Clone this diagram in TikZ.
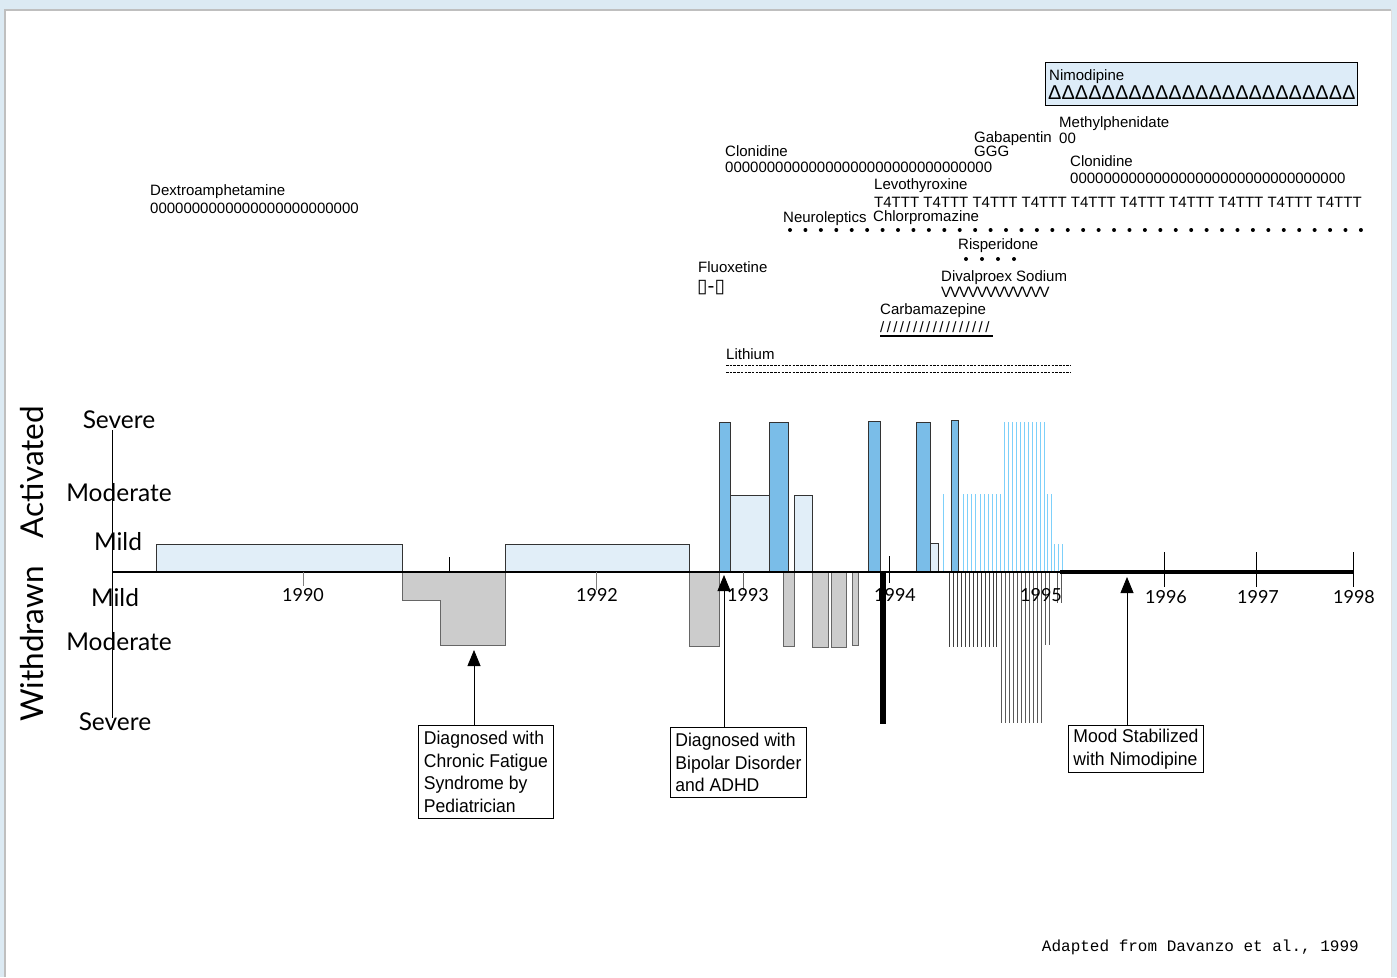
\documentclass[tikz,border=0pt]{standalone}
\usepackage{fontspec}
\usetikzlibrary{arrows.meta}
\setmainfont{Liberation Sans}
\setmonofont{Liberation Mono}
\newfontfamily\scalefont{Lato}
\newfontfamily\symbolfont{DejaVu Sans}
\newfontfamily\notefont[FakeStretch=0.95]{Liberation Sans}
\newfontfamily\slashfont[LetterSpace=16]{Liberation Sans}
\newfontfamily\tightfont[LetterSpace=-7]{Liberation Sans}

\definecolor{pageblue}{RGB}{220,234,243}
\definecolor{mildfill}{RGB}{225,238,248}
\definecolor{hotfill}{RGB}{122,189,232}
\definecolor{lowfill}{RGB}{204,204,204}
\definecolor{spikeblue}{RGB}{125,208,250}
\definecolor{nimofill}{RGB}{221,236,248}

\tikzset{
  drug/.style={anchor=west, inner sep=0pt, text height=11pt, text depth=3pt,
    font=\fontsize{15}{15}\selectfont},
  level/.style={inner sep=0pt, font=\scalefont\fontsize{24.5}{24.5}\selectfont},
  side/.style={inner sep=0pt, rotate=90, font=\scalefont\fontsize{31.5}{31.5}\selectfont},
  year/.style={inner sep=0pt, font=\scalefont\fontsize{18}{18}\selectfont},
  upbar/.style={draw=black!80, fill=mildfill, line width=0.9pt},
  hotbar/.style={draw=black!80, fill=hotfill, line width=0.9pt},
  downbar/.style={draw=black!60, fill=lowfill, line width=0.9pt},
  note/.style={draw, line width=0.8pt, fill=white, anchor=north west, align=left,
    inner xsep=5pt, inner ysep=5.5pt, font=\notefont\fontsize{18.5}{22.7}\selectfont},
  pointer/.style={-{Triangle[length=16pt,width=13pt]}, line width=0.8pt}
}

\begin{document}
\begin{tikzpicture}[x=1pt, y=-1pt]
  \useasboundingbox (0,0) rectangle (1397,977);

  % page
  \fill[pageblue] (0,0) rectangle (1397,977);
  \fill[white] (5,10) rectangle (1391,977);
  \draw[black!25, line width=2pt] (5,977) -- (5,10) -- (1391,10);
  \draw[black!12, line width=1pt] (1391,10) -- (1391,977);

  % severity scale
  \draw[line width=0.8pt] (112,430) -- (112,718);
  \node[level] (sevUp) at (119,420) {Severe};
  \node[level] (modUp) at (119,493) {Moderate};
  \node[level] (mildUp) at (118,542) {Mild};
  \node[level] (mildDown) at (115,598) {Mild};
  \node[level] (modDown) at (119,642) {Moderate};
  \node[level] (sevDown) at (115,722) {Severe};
  \node[side] (activated) at (32,472) {Activated};
  \node[side] (withdrawn) at (32,644) {Withdrawn};

  % 1994-95 daily swings
  \foreach \x in {943,951,963,967,971,975,980,984,988,992,996,1000,1047,1051}
    \draw[spikeblue, line width=0.9pt] (\x,572) -- (\x,494);
  \foreach \x in {1004,1008,...,1044}
    \draw[spikeblue, line width=0.9pt] (\x,572) -- (\x,422);
  \foreach \x in {1054,1058,1062}
    \draw[spikeblue, line width=0.9pt] (\x,572) -- (\x,544);
  \foreach \x in {949,953,...,993,996}
    \draw[black!75, line width=0.8pt] (\x,572) -- (\x,647);
  \foreach \x in {1001,1005,...,1041}
    \draw[black!65, line width=0.8pt] (\x,572) -- (\x,723);
  \foreach \x in {1045,1049}
    \draw[black!65, line width=0.8pt] (\x,572) -- (\x,645);
  \foreach \x in {1057,1061}
    \draw[black!65, line width=0.8pt] (\x,572) -- (\x,603);

  % activated
  \filldraw[upbar] (156,572) rectangle (402,544);
  \filldraw[upbar] (505,572) rectangle (689,544);
  \filldraw[hotbar] (719,572) rectangle (730,422);
  \filldraw[upbar] (730,572) rectangle (769,495);
  \filldraw[hotbar] (769,572) rectangle (788,422);
  \filldraw[upbar] (794,572) rectangle (812,495);
  \filldraw[hotbar] (868,572) rectangle (880,421);
  \filldraw[hotbar] (916,572) rectangle (930,422);
  \filldraw[upbar] (930,572) rectangle (938,543);
  \filldraw[hotbar] (951,572) rectangle (958,420);

  % withdrawn
  \filldraw[downbar] (402,572) -- (402,600) -- (440,600) -- (440,645) -- (505,645) -- (505,572) -- cycle;
  \filldraw[downbar] (689,572) rectangle (719,646);
  \filldraw[downbar] (783,572) rectangle (794,646);
  \filldraw[downbar] (812,572) rectangle (828,647);
  \filldraw[downbar] (831,572) rectangle (846,647);
  \filldraw[downbar] (852,572) rectangle (858,645);
  \fill (880,572) rectangle (886,724);

  % time line
  \draw[line width=1.2pt] (112,572) -- (1060,572);
  \draw[line width=3.5pt] (1060,572) -- (1354,572);
  \draw[black!50, line width=0.8pt] (303,572) -- (303,586);
  \draw[black!50, line width=0.8pt] (596,572) -- (596,590);
  \draw[line width=0.8pt] (449,557) -- (449,572);
  \draw[black!60, line width=0.8pt] (743,572) -- (743,590);
  \draw[line width=0.8pt] (889,556) -- (889,583);
  \foreach \x in {1164,1256,1353}
    \draw[line width=0.8pt] (\x,552) -- (\x,587);
  \node[year] (y90) at (303,595) {1990};
  \node[year] (y92) at (597,595) {1992};
  \node[year] (y93) at (748,595) {1993};
  \node[year] (y94) at (895,595) {1994};
  \node[year] (y95) at (1041,595) {1995};
  \node[year] (y96) at (1166,597) {1996};
  \node[year] (y97) at (1258,597) {1997};
  \node[year] (y98) at (1354,597) {1998};

  % medications
  \node[drug] (dexLab) at (150,191) {Dextroamphetamine};
  \node[drug] (dexDose) at (150,209) {0000000000000000000000000};
  \node[drug] (cloLab) at (725,152) {Clonidine};
  \node[drug] (cloDose) at (725,168) {00000000000000000000000000000000};
  \node[drug] (gabLab) at (974,138) {Gabapentin};
  \node[drug] (gabDose) at (974,152) {GGG};
  \node[drug] (metLab) at (1059,123) {Methylphenidate};
  \node[drug] (metDose) at (1059,139) {00};
  \node[drug] (cloTwoLab) at (1070,162) {Clonidine};
  \node[drug] (cloTwoDose) at (1070,179) {000000000000000000000000000000000};
  \node[drug] (levLab) at (874,185) {Levothyroxine};
  \node[drug] (levDose) at (874,203) {T4TTT T4TTT T4TTT T4TTT T4TTT T4TTT T4TTT T4TTT T4TTT T4TTT};
  \node[drug] (neuLab) at (783,218) {Neuroleptics};
  \node[drug] (chlLab) at (873,217) {Chlorpromazine};
  \foreach \i in {0,...,37}
    \fill (790+15.43*\i,230) circle (2pt);
  \node[drug] (risLab) at (958,245) {Risperidone};
  \foreach \x in {966,982,998,1014}
    \fill (\x,259) circle (2pt);
  \node[drug] (fluLab) at (698,268) {Fluoxetine};
  \node[drug] (fluDose) at (697,288) {\symbolfont\fontsize{19}{19}\selectfont ▯-▯};
  \node[drug] (divLab) at (941,277) {Divalproex Sodium};
  \node[drug] (divDose) at (941,293) {\tightfont VVVVVVVVVVVV};
  \node[drug] (carLab) at (880,310) {Carbamazepine};
  \node[drug] (carDose) at (880,328) {\slashfont /////////////////};
  \draw[line width=1.5pt] (880,336) -- (993,336);
  \node[drug] (litLab) at (726,355) {Lithium};
  \draw[dash pattern=on 2.5pt off 1.2pt, line width=0.6pt] (726,365) -- (1071,365);
  \draw[dash pattern=on 2.5pt off 1.2pt, line width=0.6pt] (726,372) -- (1071,372);

  % nimodipine
  \node[draw, line width=0.9pt, fill=nimofill, anchor=north west, minimum width=312pt,
    minimum height=43pt, inner sep=0pt] (nimoBox) at (1045,62) {};
  \node[drug] (nimoLab) at (1049,76) {Nimodipine};
  \node[drug, font=\fontsize{20}{20}\selectfont] (nimoDose) at (1048,95) {ΔΔΔΔΔΔΔΔΔΔΔΔΔΔΔΔΔΔΔΔΔΔΔ};

  % events
  \coordinate (cfsTip) at (474,650);
  \coordinate (bipTip) at (724,575);
  \coordinate (moodTip) at (1127,577);
  \node[note, inner xsep=5.5pt] (cfs) at (418,725) {Diagnosed with\\Chronic Fatigue\\Syndrome by\\Pediatrician};
  \node[note] (bip) at (670,727) {Diagnosed with\\Bipolar Disorder\\and ADHD};
  \node[note, inner ysep=3.5pt] (mood) at (1068,725) {Mood Stabilized\\with Nimodipine};
  \draw[pointer] (cfs.north -| cfsTip) -- (cfsTip);
  \draw[pointer] (bip.north -| bipTip) -- (bipTip);
  \draw[pointer] (mood.north -| moodTip) -- (moodTip);

  \node[anchor=east, inner sep=0pt, font=\ttfamily\fontsize{16}{16}\selectfont] (source) at (1359,947) {Adapted from Davanzo et al., 1999};
\end{tikzpicture}
\end{document}
